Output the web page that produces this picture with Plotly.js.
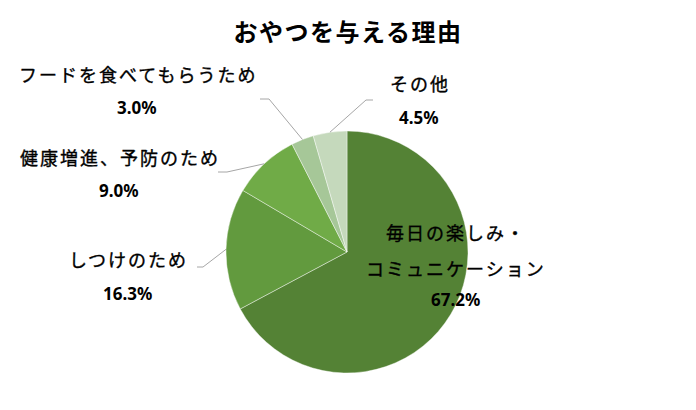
<!DOCTYPE html>
<html>
<head>
<meta charset="utf-8">
<script src="https://cdn.plot.ly/plotly-3.0.1.min.js"></script>
<style>
  body { margin: 0; background: #fff; }
  #chart { width: 696px; height: 410px; }
  .gtitle { letter-spacing: 1.5px; }
</style>
</head>
<body>
<div id="chart"></div>
<script>
// data
var labels = ['毎日の楽しみ・コミュニケーション', 'しつけのため', '健康増進、予防のため', 'フードを食べてもらうため', 'その他'];
var shares = [67.2, 16.3, 9.0, 3.0, 4.5];
var sliceColors = ['#548235', '#629a3e', '#70ab47', '#a6c798', '#c5d9bc'];

// label text lines and where they sit (pixels in the 696x410 frame)
var labelLines = [
    ['毎日の楽しみ・', 'コミュニケーション'],
    ['しつけのため'],
    ['健康増進、予防のため'],
    ['フードを食べてもらうため'],
    ['その他']
];
var labelPos = [
    { x: 455, y: [232, 268], py: 299 },
    { x: 127, y: [259], py: 293 },
    { x: 119, y: [157], py: 190 },
    { x: 137, y: [74], py: 107 },
    { x: 419, y: [83], py: 117 }
];
// elbow of the leader line: [end x, elbow x, y]; null = no leader
var leaderElbow = [null, [197, 203, 267], [218, 227, 172], [260, 269, 99], [373, 366, 100]];

var W = 696, H = 410;
var cx = 347, cy = 252, r = 121;

function px( x ) { return x / W; }
function py( y ) { return 1 - y / H; }

var annotations = [];
var shapes = [];
var total = shares.reduce(function ( a, b ) { return a + b; }, 0);
var acc = 0;

for ( var i = 0; i < labels.length; ++i ) {

    var mid = ( acc + shares[ i ] / 2 ) / total * 2 * Math.PI;
    acc += shares[ i ];

    labelLines[ i ].forEach(function ( line, k ) {
        annotations.push({
            x: px( labelPos[ i ].x + 1 ), y: py( labelPos[ i ].y[ k ] ),
            xref: 'paper', yref: 'paper', showarrow: false,
            xanchor: 'center', yanchor: 'middle',
            text: '<span style="letter-spacing:2px;stroke:#000;stroke-width:0.35px">' + line + '</span>',
            font: { family: 'Noto Sans CJK JP', size: 18, color: '#000' }
        });
    });

    annotations.push({
        x: px( labelPos[ i ].x ), y: py( labelPos[ i ].py ),
        xref: 'paper', yref: 'paper', showarrow: false,
        xanchor: 'center', yanchor: 'middle',
        text: '<b>' + shares[ i ].toFixed( 1 ) + '%</b>',
        font: { family: 'Noto Sans', size: 17, color: '#000' }
    });

    if ( leaderElbow[ i ] ) {
        //edge point of the slice, from its middle angle
        var ex = cx + r * Math.sin( mid );
        var ey = cy - r * Math.cos( mid );
        var e = leaderElbow[ i ];
        shapes.push({
            type: 'path', xref: 'paper', yref: 'paper',
            path: 'M' + px( e[ 0 ] ) + ',' + py( e[ 2 ] ) + ' L' + px( e[ 1 ] ) + ',' + py( e[ 2 ] ) + ' L' + px( ex ) + ',' + py( ey ),
            line: { color: '#a6a6a6', width: 1 }
        });
    }
}

var trace = {
    type: 'pie',
    labels: labels,
    values: shares,
    sort: false,
    direction: 'clockwise',
    rotation: 0,
    textinfo: 'none',
    textposition: 'none',
    hoverinfo: 'label+percent',
    marker: { colors: sliceColors, line: { color: 'rgba(255,255,255,0.6)', width: 0.7 } },
    domain: { x: [ px( cx - r ), px( cx + r ) ], y: [ py( cy + r ), py( cy - r ) ] }
};

var layout = {
    width: W,
    height: H,
    margin: { l: 0, r: 0, t: 0, b: 0 },
    showlegend: false,
    paper_bgcolor: '#fff',
    title: {
        text: '<b>おやつを与える理由</b>',
        x: 0.5, xanchor: 'center',
        y: py( 33 ), yanchor: 'middle',
        font: { family: 'Noto Sans CJK JP', size: 24, color: '#000' }
    },
    annotations: annotations,
    shapes: shapes
};

Plotly.newPlot( 'chart', [ trace ], layout, { staticPlot: true } );
</script>
</body>
</html>
